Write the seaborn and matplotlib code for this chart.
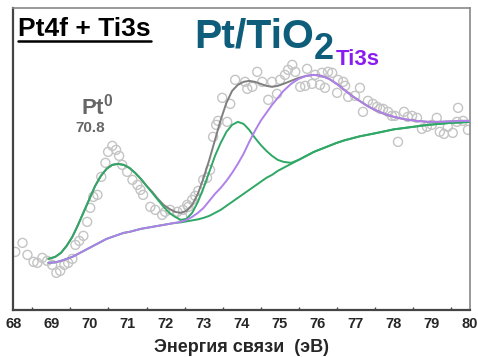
import matplotlib
matplotlib.use('Agg')
import matplotlib.pyplot as plt
import seaborn as sns
import pandas as pd

# measured points (binding energy, eV / intensity, a.u.)
exp_energy = [68.05, 68.24, 68.37, 68.53, 68.63, 68.76, 68.89, 69.02, 69.13, 69.23,
              69.34, 69.44, 69.55, 69.63, 69.73, 69.84, 69.94, 70.02, 70.10, 70.21,
              70.31, 70.42, 70.49, 70.60, 70.70, 70.78, 70.86, 70.99, 71.13, 71.26,
              71.34, 71.41, 71.60, 71.73, 71.91, 71.99, 72.12, 72.31, 72.44, 72.46,
              72.57, 72.60, 72.70, 72.78, 72.86, 72.99, 73.09, 73.17, 73.25, 73.33,
              73.38, 73.49, 73.62, 73.70, 73.83, 74.09, 74.15, 74.28, 74.41, 74.54,
              74.70, 74.80, 74.93, 75.01, 75.14, 75.22, 75.33, 75.41, 75.54, 75.67,
              75.72, 75.85, 75.93, 76.06, 76.11, 76.19, 76.27, 76.38, 76.51, 76.53,
              76.67, 76.72, 76.80, 76.98, 77.11, 77.19, 77.32, 77.45, 77.56, 77.64,
              77.72, 77.85, 77.95, 78.03, 78.11, 78.27, 78.37, 78.48, 78.61, 78.74,
              78.87, 79.00, 79.13, 79.21, 79.32, 79.42, 79.55, 79.66, 79.69, 79.82,
              79.95]
exp_counts = [58, 67, 55, 48, 47, 52, 49, 45, 37, 39,
              45, 47, 51, 65, 69, 74, 88, 102, 113, 115,
              133, 147, 158, 164, 160, 154, 145, 138, 130, 125,
              120, 115, 103, 100, 95, 98, 100, 98, 93, 100,
              105, 103, 110, 114, 119, 130, 132, 140, 173, 185,
              189, 212, 188, 206, 230, 228, 221, 223, 238, 228,
              210, 228, 216, 230, 235, 240, 245, 238, 223, 224,
              241, 226, 235, 225, 237, 222, 238, 237, 217, 230,
              228, 224, 213, 214, 222, 198, 209, 206, 203, 201,
              201, 198, 194, 194, 168, 198, 193, 194, 192, 181,
              183, 185, 192, 178, 176, 183, 177, 188, 202, 189,
              180]

# fitted curves
fit_energy = [68.92, 69.10, 69.25, 69.40, 69.55, 69.70, 69.85, 70.00, 70.15, 70.30,
              70.45, 70.60, 70.75, 70.90, 71.05, 71.20, 71.35, 71.50, 71.65, 71.80,
              71.95, 72.10, 72.25, 72.40, 72.55, 72.70, 72.85, 73.00, 73.15, 73.30,
              73.45, 73.60, 73.75, 73.90, 74.05, 74.20, 74.35, 74.50, 74.65, 74.80,
              74.95, 75.10, 75.30, 75.50, 75.70, 75.90, 76.10, 76.30, 76.50, 76.70,
              76.90, 77.10, 77.30, 77.50, 77.75, 78.00, 78.30, 78.60, 78.90, 79.20,
              79.50, 79.80, 80.00]
pt_fit = [51, 53, 57, 64, 73, 85, 98, 111, 124, 134,
          141, 145, 146, 145, 142, 137, 131, 124, 117, 110,
          103, 97, 93, 90, 91, 97, 108, 122, 138, 154,
          167, 178, 185, 188, 186, 180, 172, 165, 159, 154,
          150, 148, 147, 150, 154, 158, 161, 164, 167, 169.5,
          171.5, 173.5, 175, 176.5, 178.5, 180.5, 182, 183.5, 185, 186,
          187, 187.5, 188]
background = [47, 47.5, 49, 51, 53, 56, 59, 62, 65, 68,
              71, 73, 75, 77, 78, 79.5, 81, 82, 83, 84,
              85, 86, 87, 87.5, 88.5, 89.5, 90.5, 92, 94, 97,
              100, 104, 108, 112, 116, 120, 124, 128, 132, 135,
              139, 142, 146, 150, 154, 158, 161, 164, 167, 169.5,
              171.5, 173.5, 175, 176.5, 178.5, 180.5, 182, 183.5, 185, 186,
              187, 187.5, 188]
ti_fit = [47, 47.5, 49, 51, 53, 56, 59, 62, 65, 68,
          71, 73, 75, 77, 78, 79.5, 81, 82, 83, 84,
          85, 86, 87, 88, 90, 93, 97, 102, 109, 116,
          122, 129, 137, 146, 156, 168, 179, 189, 197, 205,
          212, 219, 226, 231, 234, 235, 234, 231, 226, 220,
          214, 209, 204, 200, 196, 193, 190.5, 189, 188, 188,
          188.5, 189, 189]
envelope = [51, 53, 57, 64, 73, 85, 98, 111, 124, 134,
            141, 145, 146, 145, 142, 137, 131, 124, 118, 111,
            105, 101, 98, 97, 99, 105, 116, 132, 150, 170,
            190, 207, 219, 225, 228, 229, 228, 226, 224, 223,
            224, 226, 229, 232, 234, 235, 234, 231, 226, 220,
            214, 209, 204, 200, 196, 193, 190.5, 189, 188, 188,
            188.5, 189, 189]

exp = pd.DataFrame({'E': exp_energy, 'I': exp_counts})
fits = pd.DataFrame({'E': fit_energy, 'Pt': pt_fit, 'Bg': background,
                     'Ti': ti_fit, 'Sum': envelope})

sns.set_style('white')
plt.rcParams['font.family'] = ['Liberation Sans', 'DejaVu Sans']
plt.rcParams['font.weight'] = 'bold'
plt.rcParams['mathtext.fontset'] = 'custom'
plt.rcParams['mathtext.rm'] = 'Liberation Sans:bold'
plt.rcParams['mathtext.default'] = 'rm'

fig = plt.figure(figsize=(4.78, 3.57), dpi=100)
ax = fig.add_axes([0.028, 0.132, 0.955, 0.846])

sns.scatterplot(data=exp, x='E', y='I', ax=ax, marker='o', s=42,
                facecolor='none', edgecolor='#c4c4c4', linewidth=1.0, zorder=2)
sns.lineplot(data=fits, x='E', y='Sum', ax=ax, color='#7f7f7f', linewidth=1.4, zorder=3)
sns.lineplot(data=fits, x='E', y='Bg', ax=ax, color='#2fa866', linewidth=1.4, zorder=4)
sns.lineplot(data=fits, x='E', y='Pt', ax=ax, color='#2fa866', linewidth=1.4, zorder=4)
sns.lineplot(data=fits, x='E', y='Ti', ax=ax, color='#b080ea', linewidth=1.4, zorder=5)

ax.set_xlim(68, 80)
ax.set_ylim(0, 302)
ax.set_xticks(range(68, 81))
ax.set_xticks([x + 0.5 for x in range(68, 80)], minor=True)
ax.set_yticks([])
ax.tick_params(axis='x', which='major', direction='in', length=3, width=1.2,
               labelsize=10.5, pad=5, color='#444444')
ax.tick_params(axis='x', which='minor', direction='in', length=2, width=1.0,
               color='#444444', bottom=True)
for lab in ax.get_xticklabels():
    lab.set_fontweight('bold')
ax.set_xlabel('Энергия связи  (эВ)', fontsize=13, fontweight='bold', labelpad=6)
ax.set_ylabel('')
for side in ['left', 'bottom']:
    ax.spines[side].set_color('#444444')
    ax.spines[side].set_linewidth(1.6)
for side in ['top', 'right']:
    ax.spines[side].set_color('#888888')
    ax.spines[side].set_linewidth(1.2)

# labels
t = fig.text(18 / 478, 1 - 36 / 357, 'Pt4f + Ti3s', fontsize=19, fontweight='bold',
             color='black')
fig.canvas.draw()
bb = t.get_window_extent().transformed(fig.transFigure.inverted())
fig.add_artist(plt.Line2D([bb.x0, bb.x1], [1 - 40.5 / 357, 1 - 40.5 / 357],
                          transform=fig.transFigure, color='black', linewidth=1.8))
fig.text(194 / 478, 1 - 48 / 357, 'Pt/TiO', fontsize=29.5, fontweight='bold',
         color='#0e5e7b')
fig.text(314 / 478, 1 - 59 / 357, '2', fontsize=26, fontweight='bold',
         color='#0e5e7b')
fig.text(336 / 478, 1 - 65 / 357, 'Ti3s', fontsize=16, fontweight='bold',
         color='#8b1cf0')
fig.text(81 / 478, 1 - 114 / 357, r'Pt$^0$', fontsize=16, fontweight='bold',
         color='#666666')
fig.text(75 / 478, 1 - 132 / 357, '70.8', fontsize=11, fontweight='bold',
         color='#666666')

fig.savefig('out.png', dpi=100, facecolor='white')
